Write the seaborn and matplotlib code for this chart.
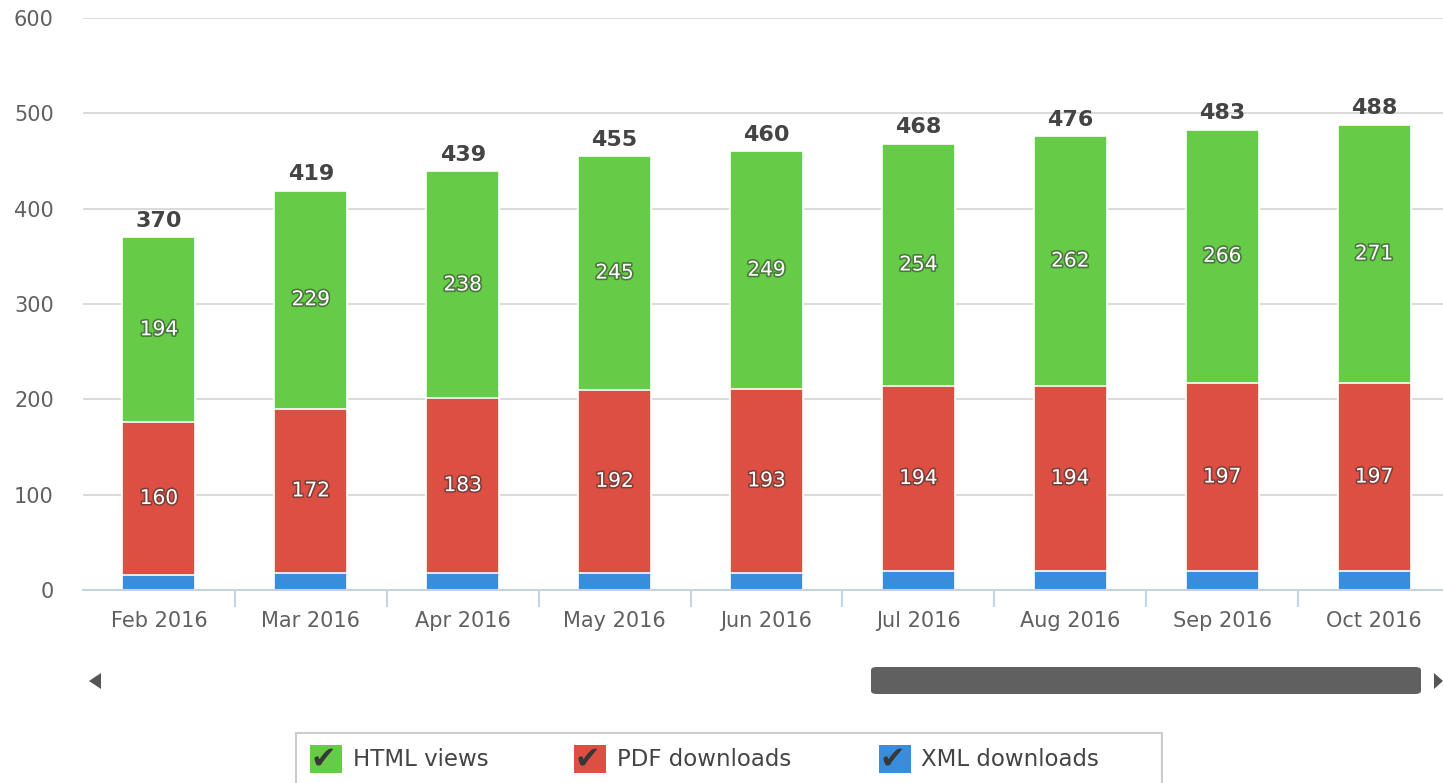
import matplotlib
matplotlib.use("Agg")
import matplotlib.pyplot as plt
import matplotlib.patheffects as pe
from matplotlib.patches import FancyBboxPatch, Rectangle, Polygon
import numpy as np
import pandas as pd
import seaborn as sns

months = ["Feb 2016", "Mar 2016", "Apr 2016", "May 2016", "Jun 2016",
          "Jul 2016", "Aug 2016", "Sep 2016", "Oct 2016"]
html_views = [194, 229, 238, 245, 249, 254, 262, 266, 271]
pdf_downloads = [160, 172, 183, 192, 193, 194, 194, 197, 197]
xml_downloads = [16, 18, 18, 18, 18, 20, 20, 20, 20]
series_names = ["HTML views", "PDF downloads", "XML downloads"]
colors = ["#66cc47", "#dd4f42", "#3a8cdc"]
y_ticks = [0, 100, 200, 300, 400, 500, 600]

sns.set_theme(style="white")
plt.rcParams['font.family'] = ['DejaVu Sans']

df = pd.DataFrame({"month": months, "html": html_views, "pdf": pdf_downloads, "xml": xml_downloads})
df["xml_top"] = df["xml"]
df["pdf_top"] = df["xml"] + df["pdf"]
df["total"] = df["pdf_top"] + df["html"]

W, H = 1443, 783
fig = plt.figure(figsize=(W / 100, H / 100), dpi=100)
ax = fig.add_axes([83 / W, 1 - 590 / H, (1450 - 83) / W, (590 - 18) / H])

bw = 0.48
for col, c in [("total", colors[0]), ("pdf_top", colors[1]), ("xml_top", colors[2])]:
    sns.barplot(data=df, x="month", y=col, color=c, width=bw, ax=ax,
                edgecolor="white", linewidth=1.2, saturation=1, zorder=3)

ax.set_xlim(-0.5, 8.5)
ax.set_ylim(0, 600)
ax.set_yticks(y_ticks)
ax.set_yticklabels([str(t) for t in y_ticks])
ax.set_xlabel("")
ax.set_ylabel("")
ax.grid(axis="y", color="#d8d8d8", linewidth=1.3, zorder=0)
ax.set_axisbelow(True)
for s in ["top", "right", "left"]:
    ax.spines[s].set_visible(False)
ax.spines["bottom"].set_color("#c6d3e3")
ax.spines["bottom"].set_linewidth(1.5)
ax.spines["bottom"].set_zorder(4)

ax.tick_params(axis="y", length=0, pad=21, labelsize=15, labelcolor="#606060")
ax.tick_params(axis="x", which="major", length=0, pad=15, labelsize=15, labelcolor="#606060")
ax.set_xticks(np.arange(0.5, 9.0, 1.0), minor=True)
ax.tick_params(axis="x", which="minor", bottom=True, length=12, width=1.5, color="#c6d3e3")

outline = [pe.withStroke(linewidth=2.4, foreground="#333333", alpha=0.55)]
for i, row in df.iterrows():
    ax.text(i, row["pdf_top"] + row["html"] / 2, str(row["html"]), ha="center", va="center",
            color="white", fontsize=14.5, path_effects=outline, zorder=5)
    ax.text(i, row["xml_top"] + row["pdf"] / 2, str(row["pdf"]), ha="center", va="center",
            color="white", fontsize=14.5, path_effects=outline, zorder=5)
    ax.text(i, row["total"] + 7, str(row["total"]), ha="center", va="bottom",
            color="#444444", fontsize=16, fontweight="bold", zorder=5)

# scrollbar
fig.patches.append(FancyBboxPatch((871 / W, 1 - 694 / H), (1421 - 871) / W, (694 - 667) / H,
                                  boxstyle="round,pad=0,rounding_size=0.004",
                                  transform=fig.transFigure, facecolor="#606060",
                                  edgecolor="none"))
fig.patches.append(Polygon([[89 / W, 1 - 681 / H], [101 / W, 1 - 673 / H], [101 / W, 1 - 689 / H]],
                           closed=True, transform=fig.transFigure, facecolor="#555555", edgecolor="none"))
fig.patches.append(Polygon([[1443 / W, 1 - 681 / H], [1434 / W, 1 - 673 / H], [1434 / W, 1 - 689 / H]],
                           closed=True, transform=fig.transFigure, facecolor="#555555", edgecolor="none"))

# legend box
fig.patches.append(Rectangle((296 / W, -0.01), (1162 - 296) / W, (1 - 733 / H) + 0.01,
                             transform=fig.transFigure, facecolor="white",
                             edgecolor="#cccccc", linewidth=1.5))
items = [(310, 353), (574, 617), (879, 921)]
for (bx, tx), name, c in zip(items, series_names, colors):
    fig.patches.append(Rectangle((bx / W, 1 - 773 / H), 32 / W, 28 / H,
                                 transform=fig.transFigure, facecolor=c, edgecolor="none"))
    fig.text((bx + 13) / W, 1 - 759 / H, "\u2714", ha="center", va="center",
             fontsize=22, color="#383838")
    fig.text(tx / W, 1 - 760 / H, name, ha="left", va="center", fontsize=16.5, color="#444444")

fig.savefig("out.png", dpi=100)
